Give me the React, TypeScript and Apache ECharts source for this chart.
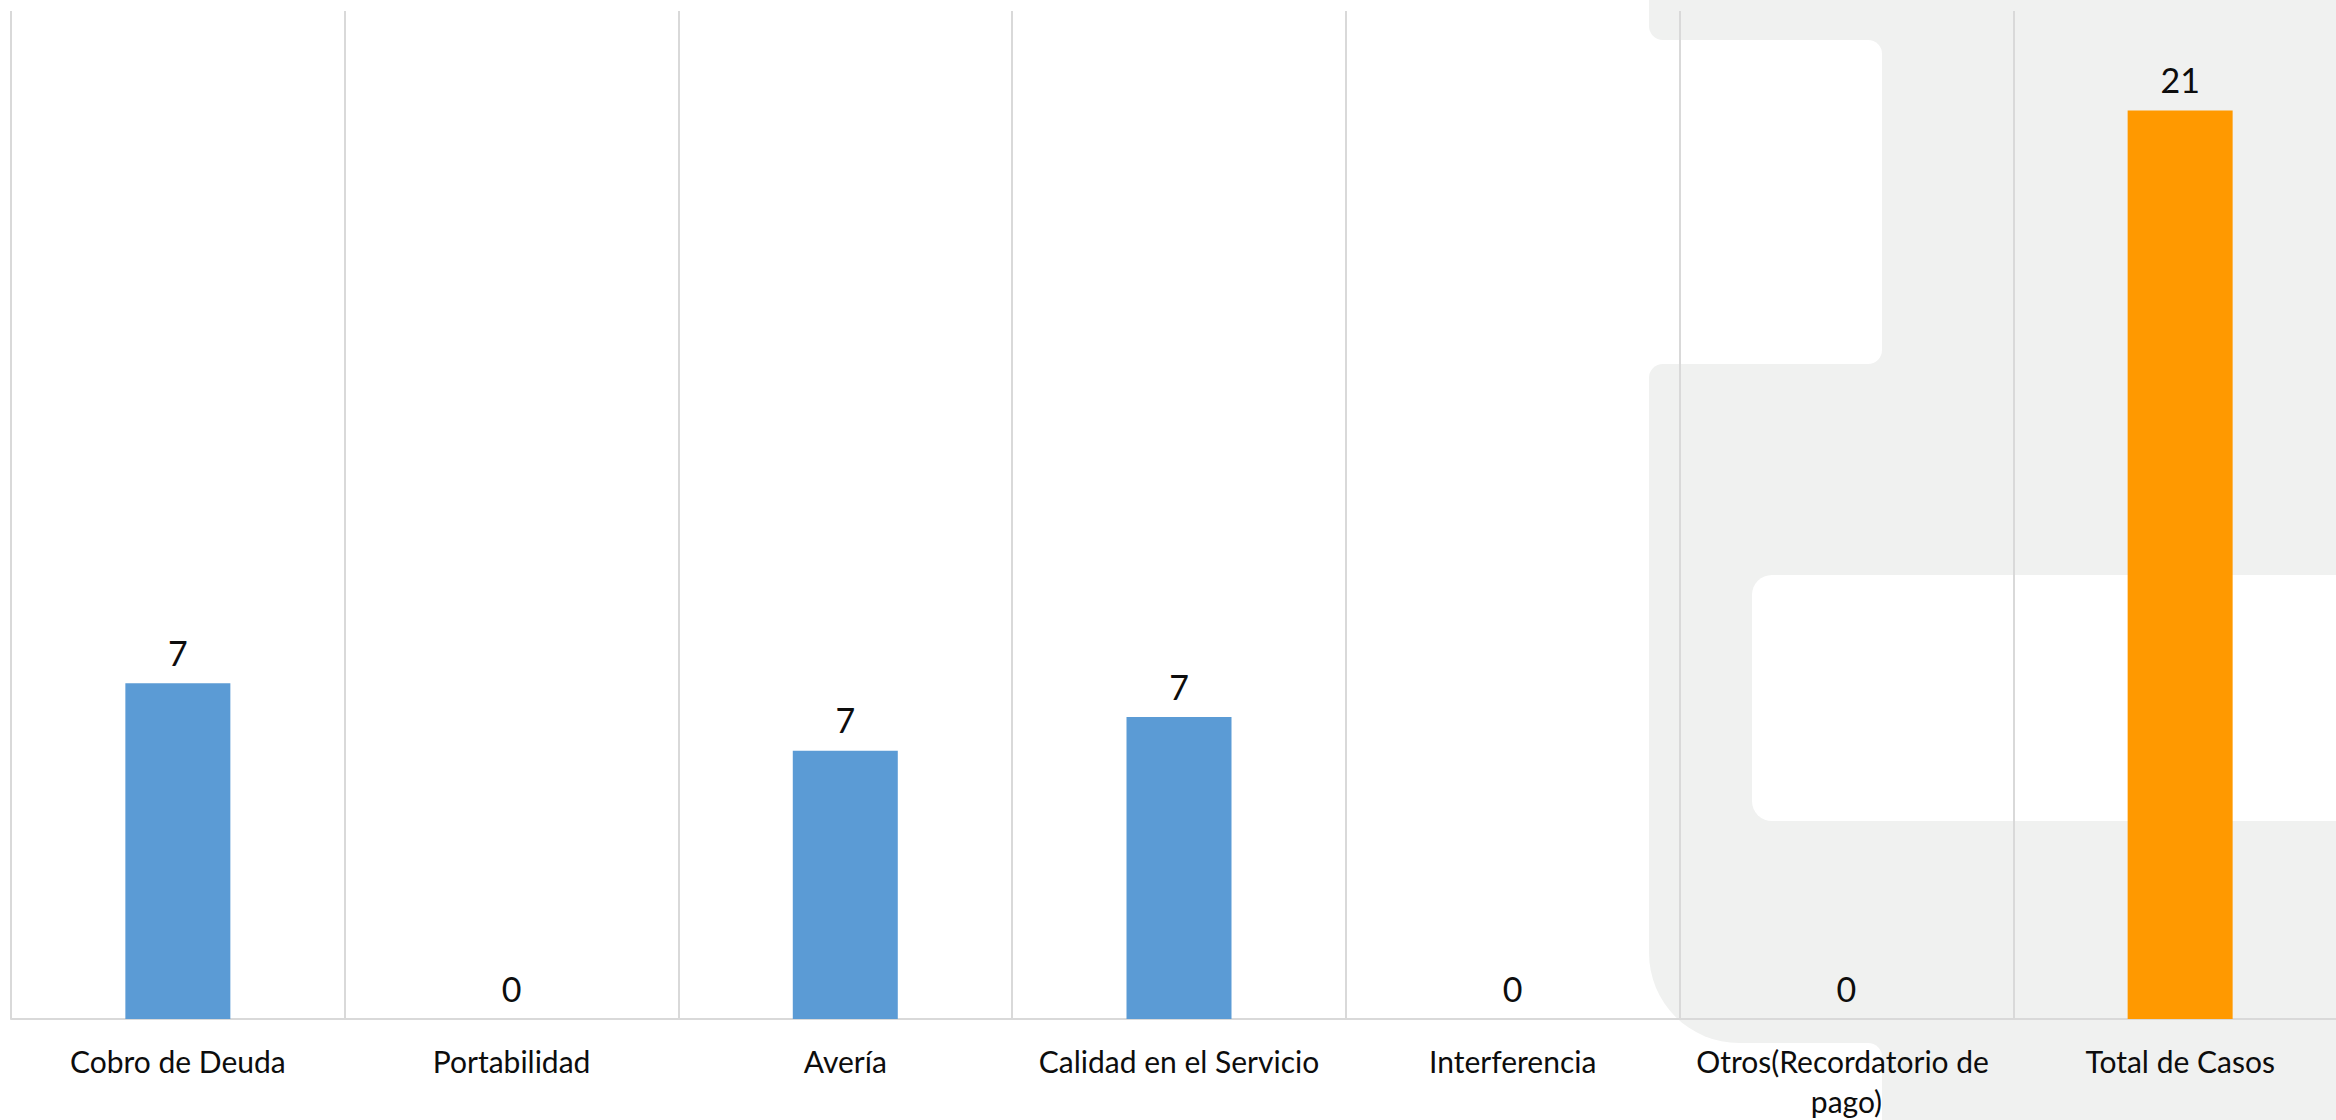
import React, { useEffect, useRef } from "react";
import * as echarts from "echarts";

const categories = [
  "Cobro de Deuda",
  "Portabilidad",
  "Avería",
  "Calidad en el Servicio",
  "Interferencia",
  "Otros(Recordatorio de pago)",
  "Total de Casos",
];
// bar heights (axis units)
const barValues = [7.76, 0, 6.2, 6.98, 0, 0, 21];
// data labels as printed on the chart
const labelTexts = ["7", "0", "7", "7", "0", "0", "21"];
const barColors = ["#5b9bd5", "#5b9bd5", "#5b9bd5", "#5b9bd5", "#5b9bd5", "#5b9bd5", "#ff9900"];
const yMax = 23.3;

const GRAY = "#f0f1f0";

export default function App() {
  const ref = useRef<HTMLDivElement>(null);
  useEffect(() => {
    if (!ref.current) return;
    const chart = echarts.init(ref.current, null, { renderer: "svg" });
    const font = "Lato";
    chart.setOption({
      animation: false,
      backgroundColor: "#ffffff",
      graphic: [
        { type: "rect", z: -100, shape: { x: 1649, y: -30, width: 800, height: 70, r: [0, 0, 0, 14] }, style: { fill: GRAY } },
        { type: "rect", z: -100, shape: { x: 1860, y: 0, width: 600, height: 1120 }, style: { fill: GRAY } },
        { type: "rect", z: -100, shape: { x: 1649, y: 364, width: 800, height: 679, r: [14, 0, 0, 90] }, style: { fill: GRAY } },
        { type: "rect", z: -99, shape: { x: 1600, y: 40, width: 282, height: 324, r: [0, 14, 14, 0] }, style: { fill: "#ffffff" } },
        { type: "rect", z: -99, shape: { x: 1600, y: 1043, width: 282, height: 100, r: [0, 14, 0, 0] }, style: { fill: "#ffffff" } },
        { type: "rect", z: -99, shape: { x: 1752, y: 575, width: 700, height: 246, r: [20, 0, 0, 20] }, style: { fill: "#ffffff" } },
      ],
      grid: { left: 11, top: 11, width: 2336, height: 1008, containLabel: false, outerBoundsMode: "none" },
      xAxis: {
        type: "category",
        data: categories,
        boundaryGap: true,
        axisLine: { show: true, lineStyle: { color: "#d9d9d9", width: 2 } },
        axisTick: { show: false },
        splitLine: { show: true, interval: 0, lineStyle: { color: "#d9d9d9", width: 2 } },
        axisLabel: {
          interval: 0,
          color: "#0d0d0d",
          fontFamily: font,
          fontSize: 30,
          lineHeight: 40,
          margin: 22,
          width: 320,
          overflow: "break",
        },
      },
      yAxis: {
        type: "value",
        min: 0,
        max: yMax,
        show: false,
        splitLine: { show: false },
      },
      series: [
        {
          type: "bar",
          barWidth: 105,
          data: barValues.map((v, i) => ({
            value: v,
            itemStyle: { color: barColors[i] },
            label: { formatter: labelTexts[i] },
          })),
          label: {
            show: true,
            position: "top",
            distance: 14,
            color: "#0d0d0d",
            fontFamily: font,
            fontSize: 34,
          },
        },
      ],
    });
    return () => chart.dispose();
  }, []);
  return (
    <div
      ref={ref}
      style={{ position: "fixed", left: 0, top: 0, width: 2336, height: 1120, overflow: "hidden" }}
    />
  );
}
